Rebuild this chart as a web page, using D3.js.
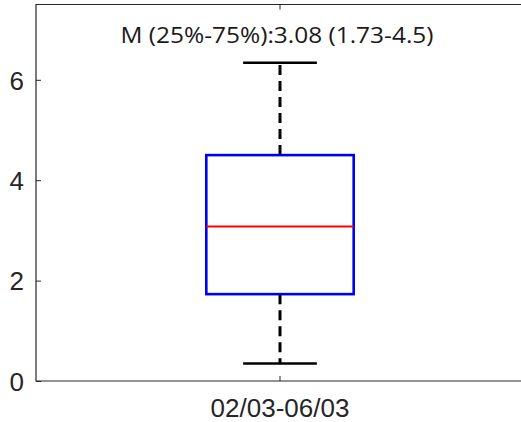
<!DOCTYPE html>
<html><head><meta charset="utf-8">
<script src="https://cdn.jsdelivr.net/npm/d3@7"></script>
<style>html,body{margin:0;padding:0;background:#fff;overflow:hidden;}svg{display:block;}</style>
</head><body>
<script>
const categories = ["02/03-06/03"];
const medians = [3.08];
const q1s = [1.73];
const q3s = [4.5];
const whiskerLow = [0.35];
const whiskerHigh = [6.34];
const yTicks = [0, 2, 4, 6];
const titleText = "M (25%-75%):3.08 (1.73-4.5)";

const W = 521, H = 422;
const m = {left: 36, right: -3, top: 4.5, bottom: 41};
const svg = d3.select("body").append("svg").attr("width", W).attr("height", H);

const x = d3.scaleBand().domain(categories).range([m.left, W - m.right]).paddingInner(0).paddingOuter(0);
const y = d3.scaleLinear().domain([0, 7.5]).range([H - m.bottom, m.top]);

const axisColor = "#262626";
const xEnd = W + 10;

const gy = svg.append("g").attr("transform", `translate(${m.left},0)`)
  .call(d3.axisRight(y).tickValues(yTicks).tickSize(5).tickFormat(""));
gy.selectAll(".domain").remove();
gy.selectAll(".tick line").attr("stroke", axisColor);
gy.selectAll(".tick").append("text").text(d => d)
  .attr("x", -12).attr("dy", "0.36em").attr("text-anchor", "end")
  .attr("fill", "#262626").style("font-family", "'Liberation Sans', Arial, sans-serif").style("font-size", "26px");

const gx = svg.append("g").attr("transform", `translate(0,${y(0)})`)
  .call(d3.axisTop(x).tickSize(5).tickFormat(""));
gx.selectAll(".domain").remove();
gx.selectAll(".tick line").attr("stroke", axisColor);
gx.selectAll(".tick").append("text").text(d => d)
  .attr("y", 36).attr("text-anchor", "middle")
  .attr("fill", "#262626").style("font-family", "'Liberation Sans', Arial, sans-serif").style("font-size", "26px");

// axes frame (left, top, bottom; no right edge visible)
svg.append("path")
  .attr("d", `M${xEnd},${y(7.5)}H${m.left}V${y(0)}H${xEnd}`)
  .attr("fill", "none").attr("stroke", axisColor).attr("stroke-width", 1.2);

// top tick
svg.append("line").attr("x1", x(categories[0]) + x.bandwidth()/2).attr("x2", x(categories[0]) + x.bandwidth()/2)
  .attr("y1", y(7.5)).attr("y2", y(7.5) + 5).attr("stroke", axisColor);

const bw = x.bandwidth() * 0.302;
const cw = bw / 2;
const g = svg.append("g");
categories.forEach((c, i) => {
  const cx = x(c) + x.bandwidth() / 2;
  g.append("line").attr("x1", cx).attr("x2", cx).attr("y1", y(q3s[i])).attr("y2", y(whiskerHigh[i]))
    .attr("stroke", "#000").attr("stroke-width", 3).attr("stroke-dasharray", "10,6");
  g.append("line").attr("x1", cx).attr("x2", cx).attr("y1", y(q1s[i])).attr("y2", y(whiskerLow[i]))
    .attr("stroke", "#000").attr("stroke-width", 3).attr("stroke-dasharray", "10,6");
  g.append("line").attr("x1", cx - cw/2).attr("x2", cx + cw/2).attr("y1", y(whiskerHigh[i])).attr("y2", y(whiskerHigh[i]))
    .attr("stroke", "#000").attr("stroke-width", 2.5);
  g.append("line").attr("x1", cx - cw/2).attr("x2", cx + cw/2).attr("y1", y(whiskerLow[i])).attr("y2", y(whiskerLow[i]))
    .attr("stroke", "#000").attr("stroke-width", 2.5);
  g.append("rect").attr("x", cx - bw/2).attr("width", bw).attr("y", y(q3s[i])).attr("height", y(q1s[i]) - y(q3s[i]))
    .attr("fill", "none").attr("stroke", "#0000ee").attr("stroke-width", 2.6);
  g.append("line").attr("x1", cx - bw/2).attr("x2", cx + bw/2).attr("y1", y(medians[i])).attr("y2", y(medians[i]))
    .attr("stroke", "#ff0000").attr("stroke-width", 2);
});

svg.append("text").text(titleText)
  .attr("x", x(categories[0]) + x.bandwidth()/2 - 3).attr("y", 43).attr("text-anchor", "middle")
  .attr("textLength", 313).attr("lengthAdjust", "spacingAndGlyphs")
  .attr("fill", "#1a1a1a").style("font-family", "'Open Sans', sans-serif").style("font-size", "22px");
</script>
</body></html>
